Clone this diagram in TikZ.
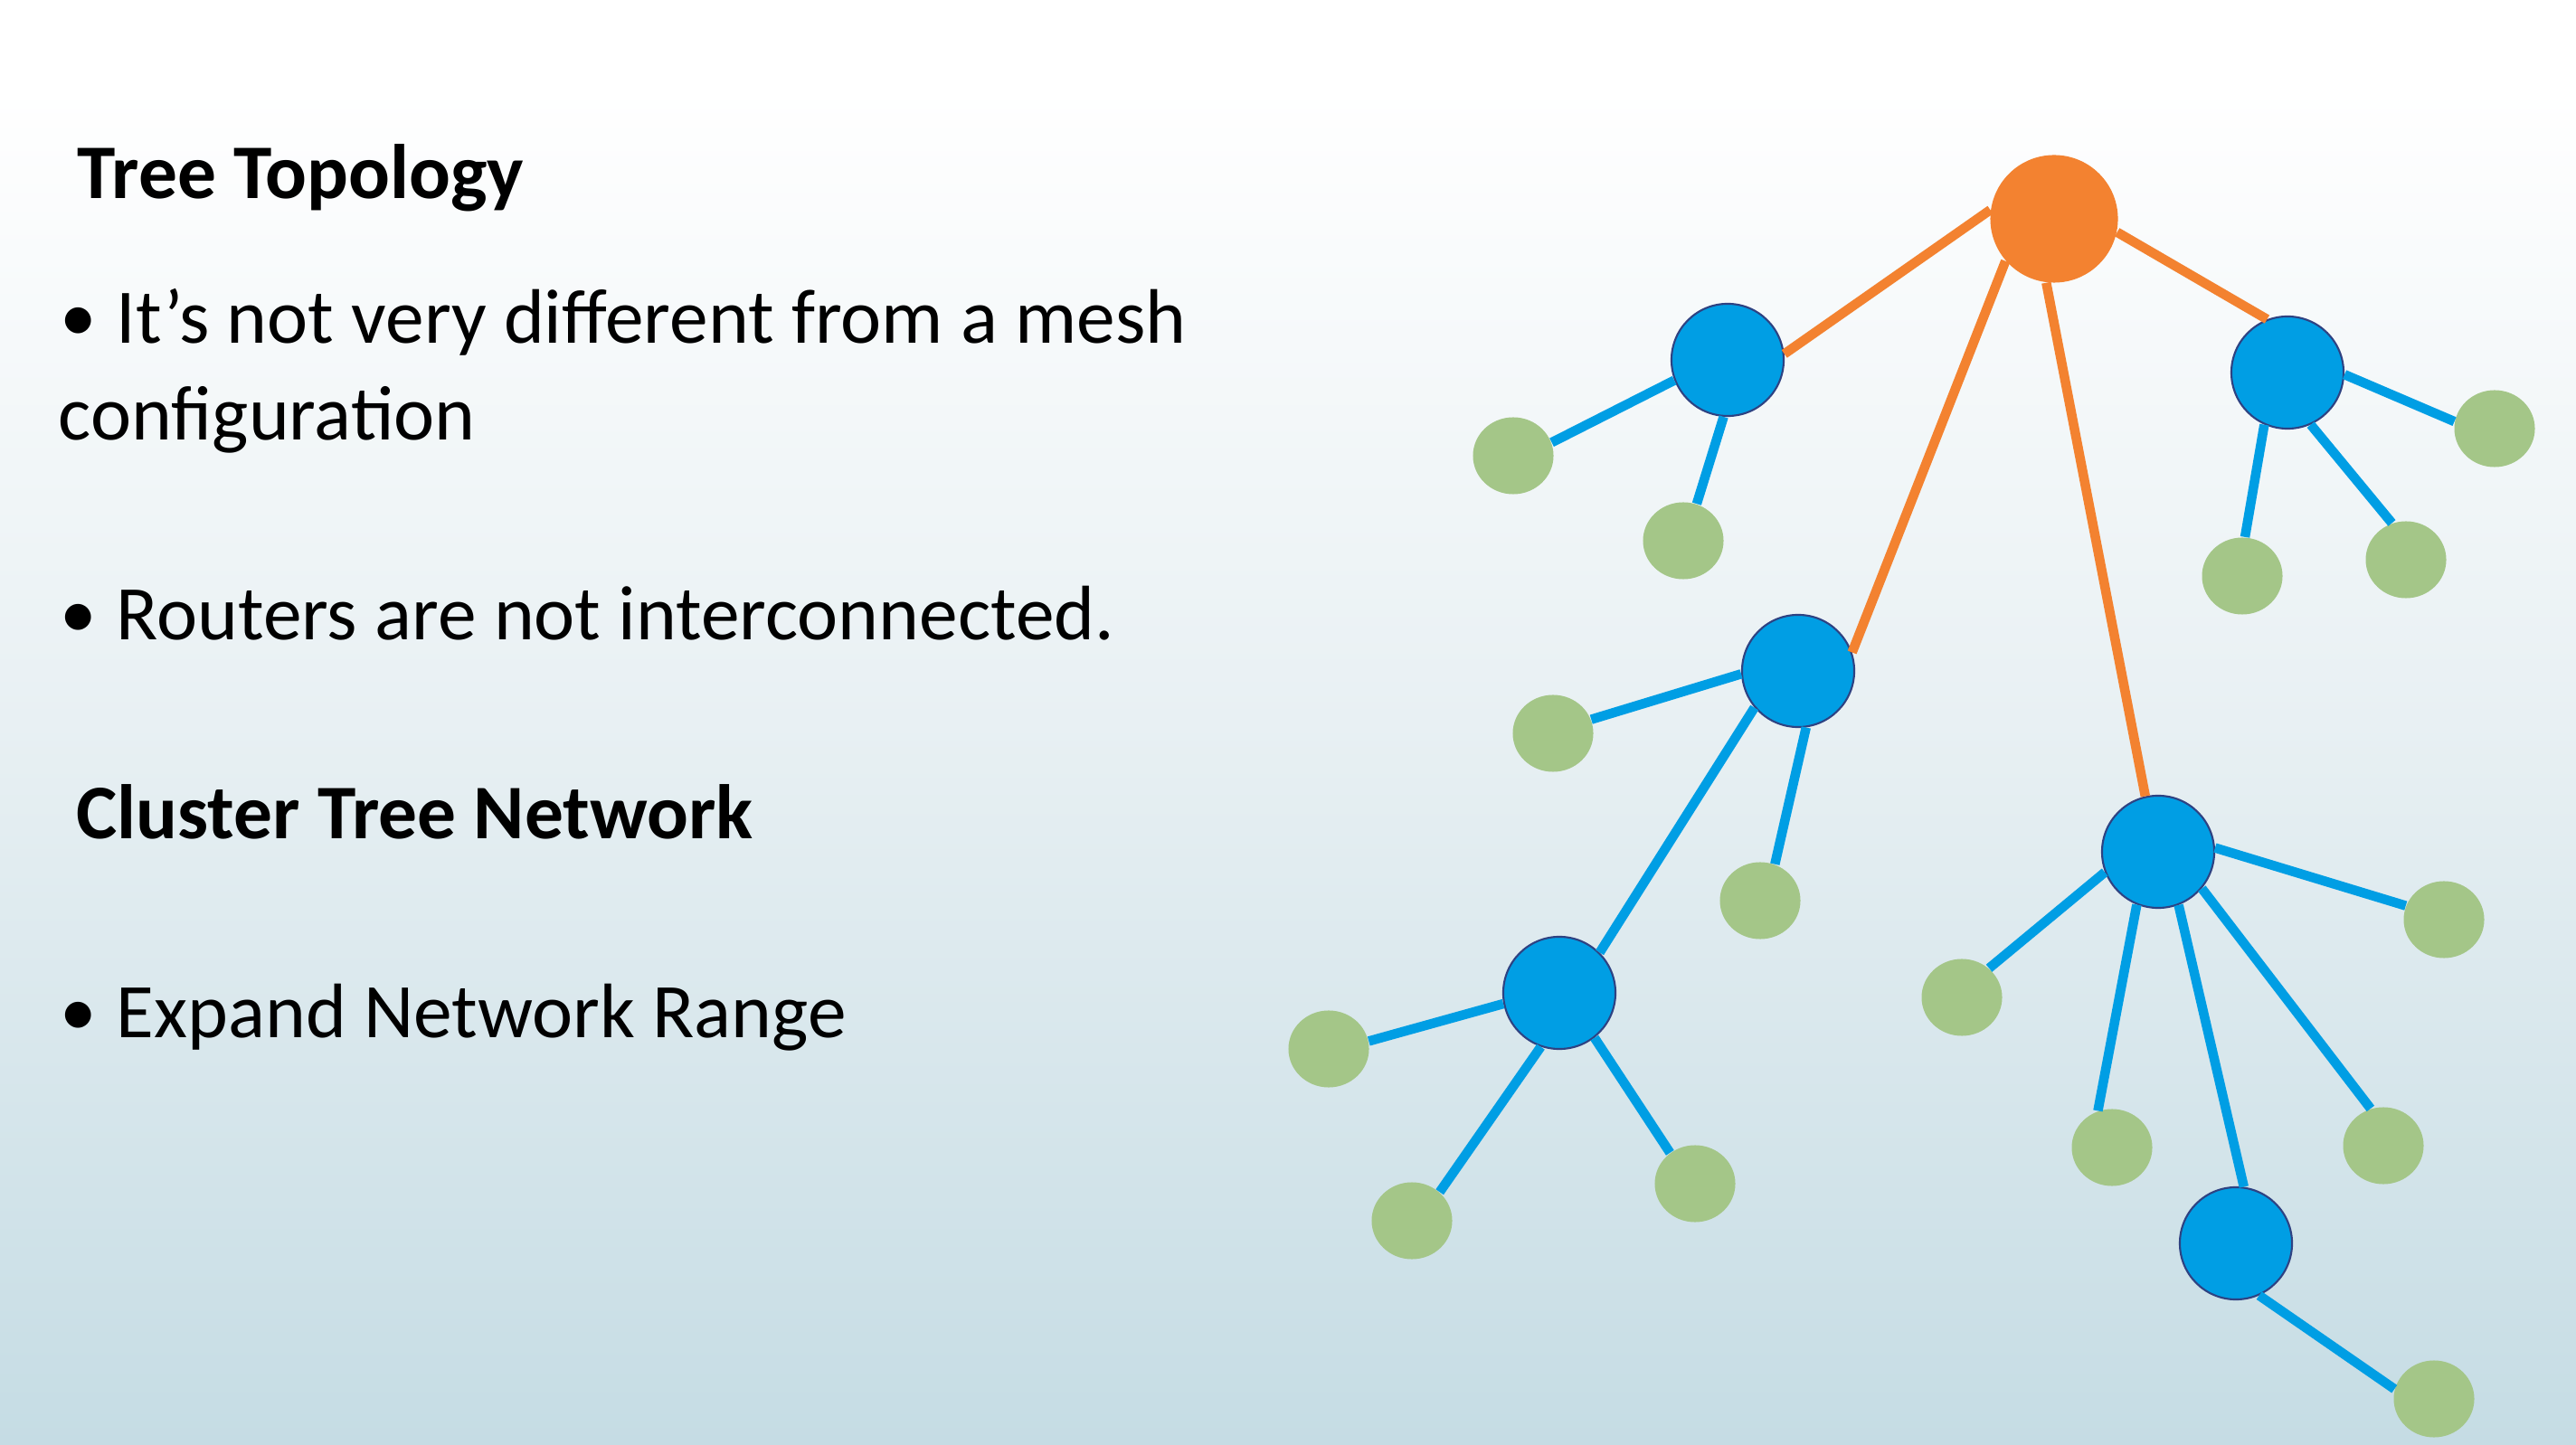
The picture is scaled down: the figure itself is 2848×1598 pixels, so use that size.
\documentclass[tikz,border=0pt]{standalone}
\usepackage{fontspec}
\setmainfont{Carlito}
\usetikzlibrary{shapes.geometric}
\definecolor{rootorange}{RGB}{243,130,48}
\definecolor{routerblue}{RGB}{0,158,228}
\definecolor{routerrim}{RGB}{46,66,130}
\definecolor{leafgreen}{RGB}{164,198,136}
\definecolor{bgtop}{RGB}{255,255,255}
\definecolor{bgmid}{RGB}{232,240,243}
\definecolor{bgbottom}{RGB}{197,220,228}
% the visible band of a vertical shading is 25bp..75bp
\pgfdeclareverticalshading{slidebg}{100bp}{
  color(0bp)=(bgbottom); color(25bp)=(bgbottom); color(50bp)=(bgmid);
  color(72bp)=(bgtop); color(100bp)=(bgtop)}
\tikzset{
  rootnode/.style={circle, fill=rootorange, minimum size=1.41cm, inner sep=0pt},
  router/.style={circle, fill=routerblue, draw=routerrim, line width=0.6pt, minimum size=1.24cm, inner sep=0pt},
  leaf/.style={ellipse, fill=leafgreen, minimum width=0.89cm, minimum height=0.85cm, inner sep=0pt},
  trunk/.style={draw=rootorange, line width=0.105cm},
  branch/.style={draw=routerblue, line width=0.105cm},
  heading/.style={anchor=base west, inner sep=0pt, font=\fontsize{24.3}{29}\selectfont\bfseries},
  bodytext/.style={anchor=base west, inner sep=0pt, font=\fontsize{24.3}{29}\selectfont},
}
\newcommand{\bulletmark}{\makebox[0.62cm][l]{\raisebox{0.02cm}{\scalebox{0.95}{•}}}}
\begin{document}
\begin{tikzpicture}[x=0.01cm, y=-0.01cm]
  % slide background
  \shade[shading=slidebg] (0,0) rectangle (2848,1598);
  \useasboundingbox (0,0) rectangle (2848,1598);

  % text column
  \node[heading] (t1) at (85,220) {Tree Topology};
  \node[bodytext] (b1) at (66,380) {\bulletmark It’s not very different from a mesh};
  \node[bodytext] (b1b) at (64,487) {configuration};
  \node[bodytext] (b2) at (66,708) {\bulletmark Routers are not interconnected.};
  \node[heading] (t2) at (84,928) {Cluster Tree Network};
  \node[bodytext] (b3) at (66,1148) {\bulletmark Expand Network Range};

  % tree nodes
  \node[rootnode] (r) at (2271,242) {};
  \node[router] (a1) at (1910,398) {};
  \node[router] (a2) at (2529,412) {};
  \node[router] (a3) at (1988,742) {};
  \node[router] (a4) at (2386,942) {};
  \node[router] (a5) at (1724,1098) {};
  \node[router] (a6) at (2472,1375) {};

  \node[leaf] (g1) at (1673,504) {};
  \node[leaf] (g2) at (1861,598) {};
  \node[leaf] (g3) at (2758,474) {};
  \node[leaf] (g4) at (2479,637) {};
  \node[leaf] (g5) at (2660,619) {};
  \node[leaf] (g6) at (1717,811) {};
  \node[leaf] (g7) at (1946,996) {};
  \node[leaf] (g8) at (1469,1160) {};
  \node[leaf] (g9) at (1561,1350) {};
  \node[leaf] (g10) at (1874,1309) {};
  \node[leaf] (g11) at (2169,1103) {};
  \node[leaf] (g12) at (2702,1017) {};
  \node[leaf] (g13) at (2335,1269) {};
  \node[leaf] (g14) at (2635,1267) {};
  \node[leaf] (g15) at (2691,1547) {};

  % links from the root (border angles where each line meets a node)
  \foreach \t/\p/\q in {a1/172/6, a2/-12/111, a3/221/19, a4/263/103}
    \draw[trunk] (r.\p) -- (\t.\q);

  % links below the routers
  \foreach \s/\p/\t/\q in {a1/201/g1/19, a1/266/g2/70,
                           a2/-2/g3/170, a2/246/g4/86, a2/294/g5/111,
                           a3/183/g6/20, a3/278/g7/68, a3/220/a5/45,
                           a5/191/g8/11, a5/251/g9/46, a5/308/g10/129,
                           a4/201/g11/47, a4/4/g12/160, a4/248/g13/111,
                           a4/320/g14/109, a4/291/a6/82,
                           a6/294/g15/166}
    \draw[branch] (\s.\p) -- (\t.\q);
\end{tikzpicture}
\end{document}
